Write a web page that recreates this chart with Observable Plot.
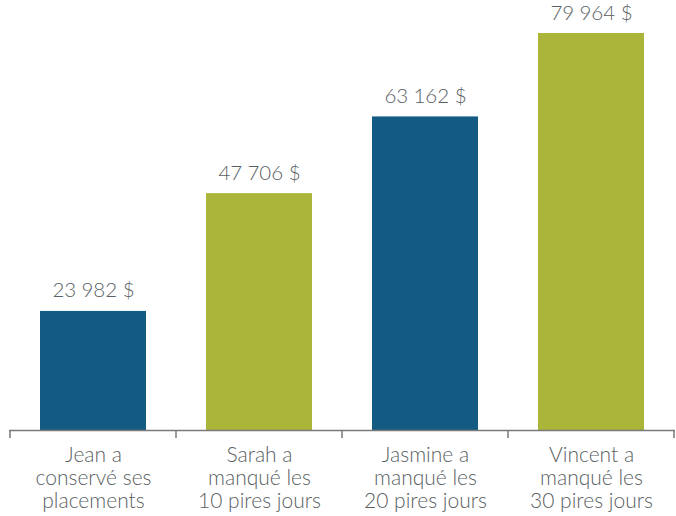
<!DOCTYPE html>
<html>
<head>
<meta charset="utf-8">
<script src="https://cdn.jsdelivr.net/npm/d3@7"></script>
<script src="https://cdn.jsdelivr.net/npm/@observablehq/plot@0.6"></script>
<style>
  html, body { margin: 0; padding: 0; background: #fff; }
</style>
</head>
<body>
<div id="chart"></div>
<script>
const categories = [
  "Jean a\nconservé ses\nplacements",
  "Sarah a\nmanqué les\n10 pires jours",
  "Jasmine a\nmanqué les\n20 pires jours",
  "Vincent a\nmanqué les\n30 pires jours"
];
const values = [23982, 47706, 63162, 79964];
const barColors = ["#145b83", "#abb53a", "#145b83", "#abb53a"];

const data = categories.map((c, i) => ({cat: c, value: values[i]}));
const fmt = d3.formatLocale({decimal: ",", thousands: "\u202f", grouping: [3], currency: ["", " $"]}).format(",d");

const textColor = "#5a5f63";
const font = "Lato, 'Open Sans', sans-serif";

const plot = Plot.plot({
  width: 676,
  height: 516,
  marginTop: 33,
  marginBottom: 86,
  marginLeft: 9,
  marginRight: 1,
  style: {fontFamily: font, background: "#fff"},
  x: {domain: categories, paddingInner: 0.36, paddingOuter: 0.18, axis: null},
  y: {domain: [0, 79964], axis: null},
  color: {domain: categories, range: barColors},
  marks: [
    Plot.barY(data, {x: "cat", y: "value", fill: "cat"}),
    Plot.ruleY([0], {stroke: "#7a7a7a", strokeWidth: 1.5}),
    Plot.text(data, {x: "cat", y: "value", text: d => fmt(d.value) + " $", lineAnchor: "bottom", dy: -14, fontSize: 20.5, fontWeight: 300, fill: textColor}),
    Plot.text(data, {x: "cat", y: 0, text: "cat", lineAnchor: "top", dy: 15, lineHeight: 1.1, fontSize: 21, fontWeight: 300, fill: textColor})
  ]
});

// Tick marks at band boundaries, positioned from Plot's x scale
const xs = plot.scale("x");
const ys = plot.scale("y");
const gap = (xs.step - xs.bandwidth) / 2;
const bounds = categories.map(c => xs.apply(c) - gap);
bounds.push(xs.apply(categories[categories.length - 1]) + xs.bandwidth + gap);
const y0 = ys.apply(0);
const g = d3.select(plot).append("g").attr("stroke", "#7a7a7a").attr("stroke-width", 1.5);
g.selectAll("line").data(bounds).join("line")
  .attr("x1", d => d).attr("x2", d => d)
  .attr("y1", y0).attr("y2", y0 + 8);

document.getElementById("chart").appendChild(plot);
</script>
</body>
</html>
